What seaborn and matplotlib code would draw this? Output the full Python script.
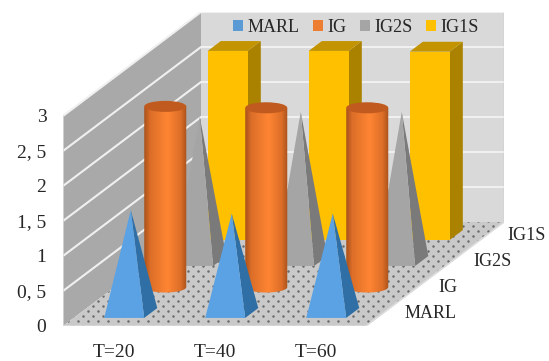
# -*- coding: utf-8 -*-
"""
Excel style 3D chart with pyramids, cylinders and boxes, drawn on a 2D axes
with an oblique projection.
"""

#%% Import packages
import numpy as np
import matplotlib
matplotlib.use('Agg')
import matplotlib.pyplot as plt
from matplotlib.colors import LinearSegmentedColormap
from matplotlib.patches import Ellipse, Patch, Polygon
import seaborn as sns

#%% Data
categories  = ['T=20','T=40','T=60']
series      = ['MARL','IG','IG2S','IG1S']
marl        = [1.47,1.42,1.42]
ig          = [2.58,2.56,2.56]
ig2s        = [2.06,2.13,2.13]
ig1s        = [2.70,2.70,2.69]
yticks      = [0,0.5,1,1.5,2,2.5,3]
yticklabels = ['0','0, 5','1','1, 5','2','2, 5','3']

#%% Style
sns.set_style('white')
plt.rcParams['font.family'] = ['Liberation Serif','DejaVu Serif']
blue,orange,gray,yellow = sns.color_palette(['#5b9bd5','#ed7d31','#a5a5a5','#ffc000'])

#%% Projection: depth moves a point up and to the right
DX      = 34.5/101      # in category units per series
DY      = 26/70         # in value units per series
HALFW   = 0.198         # half mark width in categories
HALFD   = 0.19          # half mark depth in series
ndepth  = len(series)
ncat    = len(categories)

def project(cat,depth,val):
    return cat + depth*DX, val + depth*DY

def poly(ax,corners,color,zorder):
    ax.add_patch(Polygon([project(*c) for c in corners],closed=True,fc=color,ec='none',zorder=zorder))

def draw_pyramid(ax,i,s,val,front,side,zorder):
    c,d     = i+0.5,s+0.5
    fl      = (c-HALFW,d-HALFD,0)
    fr      = (c+HALFW,d-HALFD,0)
    br      = (c+HALFW,d+HALFD,0)
    apex    = (c,d,val)
    poly(ax,[fr,br,apex],side,zorder)
    poly(ax,[fl,fr,apex],front,zorder)

def draw_box(ax,i,s,val,front,side,top,zorder):
    c,d     = i+0.5,s+0.5
    l,r     = c-HALFW,c+HALFW
    f,b     = d-HALFD,d+HALFD
    poly(ax,[(r,f,0),(r,b,0),(r,b,val),(r,f,val)],side,zorder)
    poly(ax,[(l,f,val),(r,f,val),(r,b,val),(l,b,val)],top,zorder)
    poly(ax,[(l,f,0),(r,f,0),(r,f,val),(l,f,val)],front,zorder)

def draw_cylinder(ax,i,s,val,cmap,top,zorder):
    x,y     = project(i+0.5,s+0.5,0)
    a,b     = 0.208,0.079
    t       = np.linspace(np.pi,2*np.pi,40)
    outline = np.vstack([[x-a,y+val],np.column_stack([x+a*np.cos(t),y+b*np.sin(t)]),[x+a,y+val]])
    im = ax.imshow(np.linspace(0,1,80)[None,:],cmap=cmap,extent=(x-a,x+a,y-b,y+val),
                   aspect='auto',origin='lower',zorder=zorder)
    body = Polygon(outline,closed=True,fc='none',ec='none',transform=ax.transData)
    ax.add_patch(body)
    im.set_clip_path(body)
    ax.add_patch(Ellipse((x,y+val),2*a,2*b,fc=top,ec='none',zorder=zorder+0.1))

#%% Figure: axes box is the bounding box of the projected chart
fig = plt.figure(figsize=(5.49,3.61),dpi=100)
ax  = fig.add_axes([63/549,(361-326)/361,441/549,314/361])

# walls and floor
poly(ax,[(0,0,0),(0,ndepth,0),(0,ndepth,3),(0,0,3)],'#a9a9a9',1)
poly(ax,[(0,ndepth,0),(ncat,ndepth,0),(ncat,ndepth,3),(0,ndepth,3)],'#d9d9d9',1)
poly(ax,[(0,0,0),(ncat,0,0),(ncat,ndepth,0),(0,ndepth,0)],'#c9c9c9',1)

# dotted floor
gx,gy   = np.meshgrid(np.arange(0,46)*10/101,np.arange(0,12)*10/70)
gx      = np.concatenate([gx.ravel(),gx.ravel()+5/101])
gy      = np.concatenate([gy.ravel(),gy.ravel()+5/70])
dots    = ax.scatter(gx,gy,s=3.2,color='#6a6a6a',linewidths=0,zorder=2)
floor   = Polygon([project(*c) for c in [(0,0,0),(ncat,0,0),(ncat,ndepth,0),(0,ndepth,0)]],
                  closed=True,fc='none',ec='none',transform=ax.transData)
ax.add_patch(floor)
dots.set_clip_path(floor)

# gridlines
for val in yticks:
    xs,ys = zip(project(0,0,val),project(0,ndepth,val),project(ncat,ndepth,val))
    if val==0:
        continue
    ax.plot(xs,ys,color='#f0f0f0',lw=1.5,solid_capstyle='butt',zorder=3)
xs,ys = zip(project(0,0,0),project(ncat,0,0),project(ncat,ndepth,0))
ax.plot(xs,ys,color='#dcdcdc',lw=1.2,zorder=3)
xs,ys = zip(project(0,0,0),project(0,0,3))
ax.plot(xs,ys,color='#d9d9d9',lw=1.2,zorder=3)
xs,ys = zip(project(ncat,ndepth,0),project(ncat,ndepth,3))
ax.plot(xs,ys,color='#c4c4c4',lw=1,zorder=3)

# marks, back to front
cyl_cmap = LinearSegmentedColormap.from_list('cyl',[(0,'#a9521b'),(0.14,'#dc6e28'),(0.55,'#ff8533'),
                                                    (0.86,'#dc6e28'),(1,'#a9521b')])
for i in range(ncat):
    draw_box(ax,i,3,ig1s[i],yellow,'#ab8100','#c39400',10)
    draw_pyramid(ax,i,2,ig2s[i],gray,'#7a7a7a',20+i)
    draw_cylinder(ax,i,1,ig[i],cyl_cmap,'#c05a1e',30+i)
    draw_pyramid(ax,i,0,marl[i],'#5aa2e4','#2f6fa5',40+i)

# axes
ax.set_xlim(0,441/101)
ax.set_ylim(0,314/70)
ax.set_xticks(np.arange(ncat)+0.5)
ax.set_xticklabels(categories,fontsize=14,color='#262626')
ax.set_yticks(yticks)
ax.set_yticklabels(yticklabels,fontsize=14,color='#262626')
ax.tick_params(axis='x',length=0,pad=13)
ax.tick_params(axis='y',length=0,pad=12)
sns.despine(ax=ax,left=True,bottom=True)

# series labels along the right edge of the floor
for s,name in enumerate(series):
    x,y = project(ncat+21/101,s+0.5,0)
    ax.text(x,y,name,fontsize=13,color='#262626',ha='left',va='center',zorder=50)

handles = [Patch(fc=c,ec='none',label=n) for c,n in zip([blue,orange,gray,yellow],series)]
ax.legend(handles=handles,ncols=4,frameon=False,fontsize=13,loc='center',
          bbox_to_anchor=(356/549,1-27/361),bbox_transform=fig.transFigure,
          handlelength=0.55,handleheight=0.55,handletextpad=0.25,columnspacing=0.75,labelcolor='#262626')

fig.savefig('out.png',dpi=100)
